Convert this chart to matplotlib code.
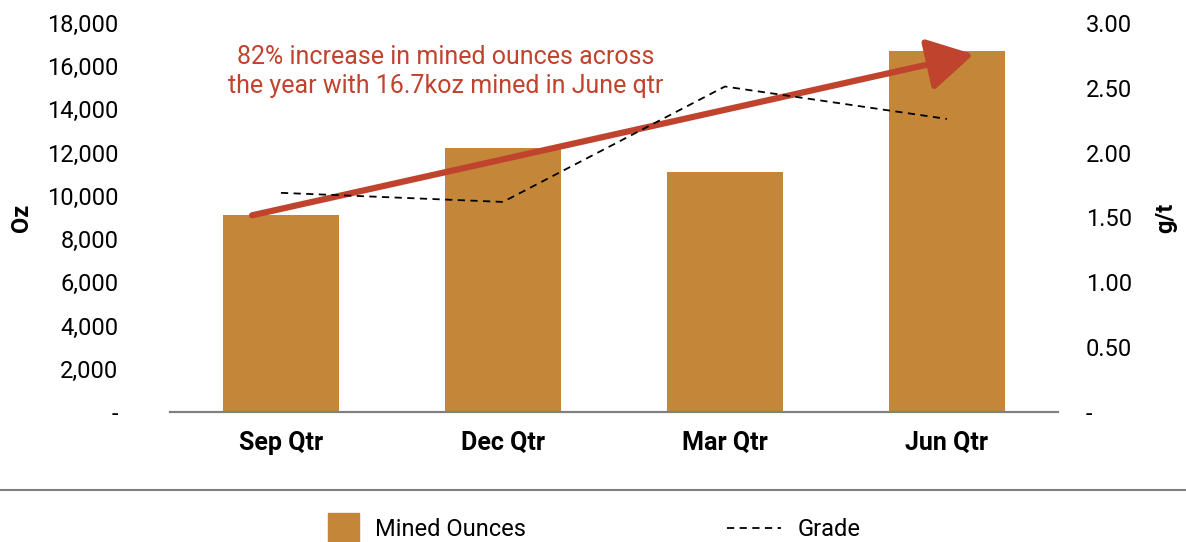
import matplotlib
matplotlib.use("Agg")
import matplotlib.pyplot as plt
from matplotlib.lines import Line2D
from matplotlib.patches import Patch, Rectangle
from matplotlib.legend_handler import HandlerPatch

plt.rcParams['font.family'] = ['Roboto', 'DejaVu Sans']

quarters = ['Sep Qtr', 'Dec Qtr', 'Mar Qtr', 'Jun Qtr']
mined_oz = [9100, 12200, 11100, 16700]
grade = [1.69, 1.62, 2.51, 2.26]

oz_ticks = list(range(0, 18001, 2000))
oz_labels = ['-'] + [f"{v:,}" for v in oz_ticks[1:]]
g_ticks = [0, 0.5, 1.0, 1.5, 2.0, 2.5, 3.0]
g_labels = ['-'] + [f"{v:.2f}" for v in g_ticks[1:]]

bar_color = '#C4873A'
red = '#C0432E'

fig = plt.figure(figsize=(11.86, 5.42), dpi=100)
ax = fig.add_axes([0.1433, 0.2399, 0.7487, 0.7177])
ax2 = ax.twinx()

x = list(range(len(quarters)))
ax.bar(x, mined_oz, width=0.52, color=bar_color, zorder=2)
ax.set_xlim(-0.5, 3.5)
ax.set_ylim(0, 18000)
ax.set_yticks(oz_ticks)
ax.set_yticklabels(oz_labels, fontsize=17)
ax.set_xticks(x)
ax.set_xticklabels(quarters, fontsize=18, fontweight='bold')
ax.tick_params(axis='y', length=0, pad=37)
ax.tick_params(axis='x', length=0, pad=14)
ax.set_ylabel('Oz', fontsize=17, fontweight='bold', labelpad=10)

ax2.plot(x, grade, color='black', lw=1.3, ls=(0, (4, 3)), zorder=3)
ax2.set_ylim(0, 3.0)
ax2.set_yticks(g_ticks)
ax2.set_yticklabels(g_labels, fontsize=17)
ax2.tick_params(axis='y', length=0, pad=20)
ax2.set_ylabel('g/t', fontsize=17, fontweight='bold', rotation=90, labelpad=16)

for a in (ax, ax2):
    for s in ['top', 'left', 'right']:
        a.spines[s].set_visible(False)
    a.spines['bottom'].set_color('#808080')
    a.spines['bottom'].set_linewidth(1.5)

# trend arrow from first to last quarter
ax.annotate('', xy=(3.12, mined_oz[-1] - 150), xytext=(-0.13, mined_oz[0]),
            arrowprops=dict(arrowstyle='-|>,head_length=1.4,head_width=0.8',
                            lw=4.5, color=red, shrinkA=0, shrinkB=0,
                            mutation_scale=20), zorder=5)
ax.text(0.31, 0.875, '82% increase in mined ounces across\nthe year with 16.7koz mined in June qtr',
        transform=ax.transAxes, ha='center', va='center', color=red,
        fontsize=18, linespacing=1.28)

# separator line above legend
fig.add_artist(Line2D([0, 1], [1 - 490 / 542] * 2, transform=fig.transFigure,
                      color='#808080', lw=1.5))


def square(legend, orig_handle, xdescent, ydescent, width, height, fontsize):
    side = 22
    return Rectangle((width - side - xdescent, height / 2 - side / 2 - ydescent), side, side)


handles = [Patch(color=bar_color, label='Mined Ounces'),
           Line2D([], [], color='black', lw=1.3, ls=(0, (4, 3)), label='Grade')]
fig.legend(handles=handles, loc='center', bbox_to_anchor=(0.491, 1 - 530 / 542),
           ncol=2, frameon=False, fontsize=17, columnspacing=8.5,
           handlelength=2.3, handletextpad=0.7,
           handler_map={Patch: HandlerPatch(patch_func=square)})

fig.savefig('out.png', dpi=100)
